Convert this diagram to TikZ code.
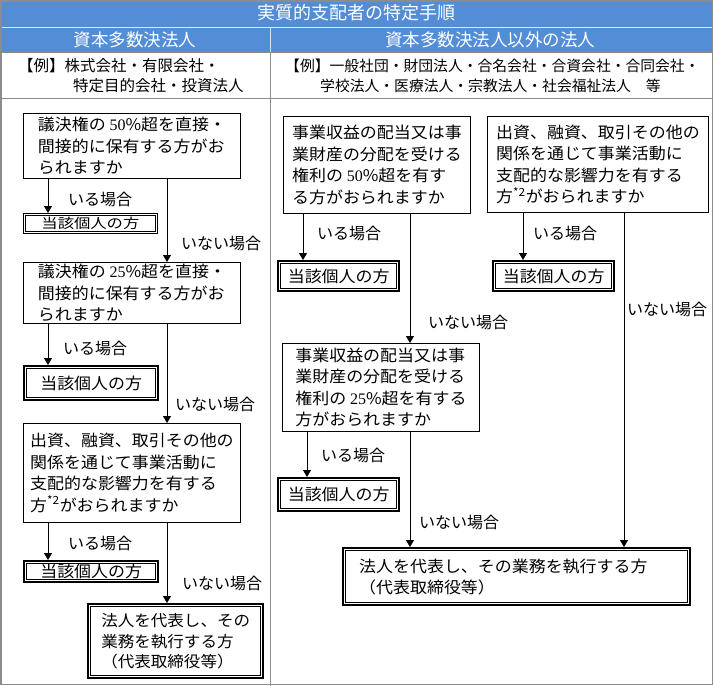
\documentclass[tikz,border=0pt]{standalone}
\usepackage{fontspec}
\setmainfont{Noto Sans CJK JP}
\newfontfamily\serdigits{Liberation Serif}
\newfontfamily\widecjk[FakeStretch=1.2]{Noto Sans CJK JP}
\newfontfamily\boxcjk[FakeStretch=1.06]{Noto Sans CJK JP}
\usetikzlibrary{arrows.meta}
\definecolor{hdr}{RGB}{83,141,213}
\definecolor{gridc}{RGB}{140,140,140}
\newcommand\bxfont{\boxcjk\fontsize{16}{21.5}\selectfont}
\newcommand\lbfont{\fontsize{16}{18}\selectfont}
\tikzset{
  box/.style={draw=black, line width=0.9pt, anchor=north west, inner sep=0pt, align=left, font=\bxfont},
  resbox/.style={draw=black, line width=0.8pt, anchor=north west, inner sep=0pt, font=\bxfont},
  thickbox/.style={draw=black, line width=2.4pt, anchor=north west, inner sep=0pt, font=\bxfont},
  arr/.style={draw=black, line width=0.8pt, -{Triangle[width=8pt,length=7pt]}},
  lbl/.style={anchor=west, inner sep=0pt, font=\lbfont},
}
\begin{document}
\begin{tikzpicture}[x=1pt,y=-1pt]
\useasboundingbox (0,0) rectangle (713,686);
% header bands
\fill[hdr] (0,0) rectangle (713,52);
\draw[white!80!hdr, line width=0.8pt] (0,27) -- (713,27);
\draw[white!75!hdr, line width=0.8pt] (270,27) -- (270,52);
\draw[gridc, line width=0.8pt] (0,52) -- (713,52);
\draw[gridc, line width=0.8pt] (0,98) -- (713,98);
\draw[gridc, line width=0.8pt] (270,52) -- (270,686);
\draw[gridc, line width=1.5pt] (0.75,0.75) rectangle (712.25,684.5);
\node[text=white, font=\fontsize{18}{20}\selectfont, inner sep=0pt] (title) at (356,13) {実質的支配者の特定手順};
\node[text=white, font=\fontsize{17.5}{20}\selectfont, inner sep=0pt] (hl) at (135,40) {資本多数決法人};
\node[text=white, font=\fontsize{17.5}{20}\selectfont, inner sep=0pt] (hr) at (490,40) {資本多数決法人以外の法人};
\node[anchor=north west, inner sep=0pt, align=left, font=\fontsize{15.5}{20}\selectfont] (exl) at (18,58)
  {【例】株式会社・有限会社・\\\hspace*{55pt}特定目的会社・投資法人};
\node[anchor=north west, inner sep=0pt, align=left, font=\fontsize{14.8}{20}\selectfont] (exr) at (285,59)
  {【例】一般社団・財団法人・合名会社・合資会社・合同会社・\\\hspace*{35pt}学校法人・医療法人・宗教法人・社会福祉法人　等};

% left column
\node[box, minimum width=217pt, minimum height=65pt] (L1) at (23,113)
  {議決権の {\serdigits 50}\%超を直接・\\間接的に保有する方がお\\られますか};
\node[resbox, minimum width=134pt, minimum height=20pt, font=\widecjk\fontsize{13.6}{15}\selectfont] (L1r) at (23,213) {当該個人の方};
\node[box, minimum width=217pt, minimum height=61pt] (L2) at (23,262)
  {議決権の {\serdigits 25}\%超を直接・\\間接的に保有する方がお\\られますか};
\node[thickbox, minimum width=134pt, minimum height=34pt] (L2r) at (23,365) {当該個人の方};
\node[box, minimum width=217pt, minimum height=99pt] (L3) at (23,423)
  {出資、融資、取引その他の\\関係を通じて事業活動に\\支配的な影響力を有する\\方\textsuperscript{*2}がおられますか};
\node[thickbox, minimum width=134pt, minimum height=21pt] (L3r) at (23,560) {当該個人の方};
\node[thickbox, minimum width=175pt, minimum height=74pt, align=left, font=\boxcjk\fontsize{15.6}{20.5}\selectfont] (L4) at (87,603)
  {法人を代表し、その\\業務を執行する方\\（代表取締役等）};

\draw[arr] ([xshift=25pt]L1.south west) -- ([xshift=25pt]L1.south west |- L1r.north);
\draw[arr] ([xshift=144pt]L1.south west) -- ([xshift=144pt]L1.south west |- L2.north);
\draw[arr] ([xshift=25pt]L2.south west) -- ([xshift=25pt]L2.south west |- L2r.north);
\draw[arr] ([xshift=144pt]L2.south west) -- ([xshift=144pt]L2.south west |- L3.north);
\draw[arr] ([xshift=25pt]L3.south west) -- ([xshift=25pt]L3.south west |- L3r.north);
\draw[arr] ([xshift=144pt]L3.south west) -- ([xshift=144pt]L3.south west |- L4.north);

\node[lbl] (a1) at (68,199) {いる場合};
\node[lbl] (b1) at (181,243) {いない場合};
\node[lbl] (a2) at (63,348) {いる場合};
\node[lbl] (b2) at (175,404) {いない場合};
\node[lbl] (a3) at (68,543) {いる場合};
\node[lbl] (b3) at (182,583) {いない場合};

% right column
\node[box, minimum width=187pt, minimum height=97pt] (R1) at (283,116)
  {事業収益の配当又は事\\業財産の分配を受ける\\権利の {\serdigits 50}\%超を有す\\る方がおられますか};
\node[thickbox, minimum width=121pt, minimum height=30pt] (R1r) at (277,260) {当該個人の方};
\node[box, minimum width=197pt, minimum height=88pt] (R2) at (282,343)
  {事業収益の配当又は事\\業財産の分配を受ける\\権利の {\serdigits 25}\%超を有する\\方がおられますか};
\node[thickbox, minimum width=121pt, minimum height=33pt] (R2r) at (277,477) {当該個人の方};
\node[box, minimum width=221pt, minimum height=96pt] (R3) at (487,116)
  {出資、融資、取引その他の\\関係を通じて事業活動に\\支配的な影響力を有する\\方\textsuperscript{*2}がおられますか};
\node[thickbox, minimum width=121pt, minimum height=30pt] (R3r) at (492,260) {当該個人の方};
\node[thickbox, minimum height=57pt, text width=315pt, inner xsep=16pt, align=left, font=\boxcjk\fontsize{16}{21}\selectfont] (R4) at (342,547)
  {法人を代表し、その業務を執行する方\\（代表取締役等）};

\draw[arr] ([xshift=20pt]R1.south west) -- ([xshift=20pt]R1.south west |- R1r.north);
\draw[arr] ([xshift=127pt]R1.south west) -- ([xshift=127pt]R1.south west |- R2.north);
\draw[arr] ([xshift=25pt]R2.south west) -- ([xshift=25pt]R2.south west |- R2r.north);
\draw[arr] ([xshift=128pt]R2.south west) -- ([xshift=128pt]R2.south west |- R4.north);
\draw[arr] ([xshift=36pt]R3.south west) -- ([xshift=36pt]R3.south west |- R3r.north);
\draw[arr] ([xshift=137pt]R3.south west) -- ([xshift=137pt]R3.south west |- R4.north);

\node[lbl] (a4) at (317,233) {いる場合};
\node[lbl] (a5) at (533,233) {いる場合};
\node[lbl] (b4) at (428,322) {いない場合};
\node[lbl] (b5) at (627,309) {いない場合};
\node[lbl] (a6) at (321,455) {いる場合};
\node[lbl] (b6) at (419,522) {いない場合};

% inner lines of double frames
\draw[line width=0.7pt] ([shift={(2.6,2.6)}]L1r.north west) rectangle ([shift={(-2.6,-2.6)}]L1r.south east);
\foreach \n in {L2r,L3r,L4,R1r,R2r,R3r,R4}
  \draw[line width=0.7pt] ([shift={(3.6,3.6)}]\n.north west) rectangle ([shift={(-3.6,-3.6)}]\n.south east);
\end{tikzpicture}
\end{document}
